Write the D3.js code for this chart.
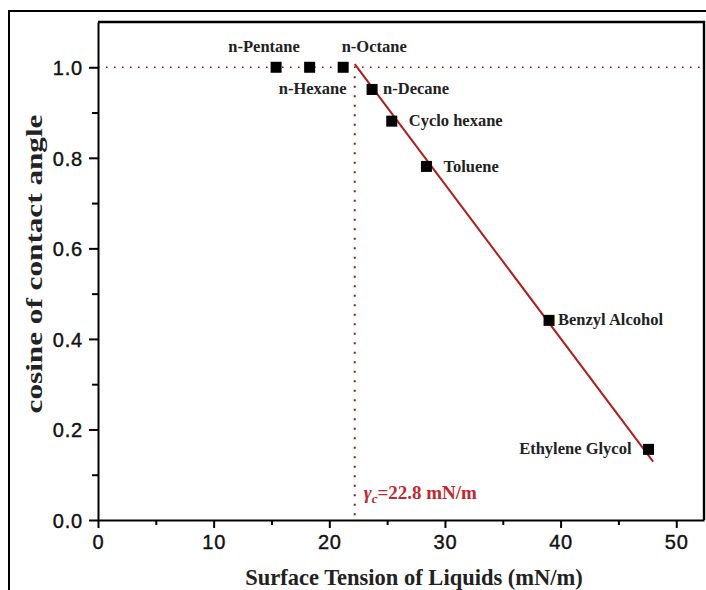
<!DOCTYPE html>
<html>
<head>
<meta charset="utf-8">
<script src="https://cdn.jsdelivr.net/npm/d3@7"></script>
<style>
  body { margin: 0; background: #fff; }
  svg { display: block; }
</style>
</head>
<body>
<svg width="706" height="590"></svg>
<script>
// liquids used for the Zisman plot
var liquids = ["n-Pentane", "n-Hexane", "n-Octane", "n-Decane", "Cyclo hexane", "Toluene", "Benzyl Alcohol", "Ethylene Glycol"];
var tension = [15.4, 18.3, 21.2, 23.7, 25.4, 28.4, 39.0, 47.6];
var cosTheta = [1.0, 1.0, 1.0, 0.951, 0.881, 0.781, 0.441, 0.156];

// fitted line ends and critical surface tension
var fitX = [22.2, 48.0];
var fitY = [1.007, 0.129];
var gammaC = 22.2;
var gammaLabel = "22.8 mN/m";

var xTicks = [0, 10, 20, 30, 40, 50];
var xMinor = [5, 15, 25, 35, 45];
var yTicks = [0, 0.2, 0.4, 0.6, 0.8, 1.0];
var yMinor = [0.1, 0.3, 0.5, 0.7, 0.9];

var svg = d3.select("svg"),
    margin = {top: 22, right: 2, bottom: 70, left: 98},
    width = 706 - margin.left - margin.right,
    height = 590 - margin.top - margin.bottom;

var x = d3.scaleLinear().domain([0, 52.4]).range([margin.left, margin.left + width]);
var y = d3.scaleLinear().domain([0, 1.1]).range([margin.top + height, margin.top]);

var serif = "'Times New Roman', 'Liberation Serif', serif";

// outer frame
svg.append("rect")
    .attr("x", 9).attr("y", 11)
    .attr("width", 760).attr("height", 640)
    .attr("fill", "none").attr("stroke", "#000").attr("stroke-width", 2);

// plot box top / right
svg.append("path")
    .attr("d", "M" + x(0) + "," + y(1.1) + "H" + x(52.4) + "V" + y(0))
    .attr("fill", "none").attr("stroke", "#000").attr("stroke-width", 2.4);

// dotted guides
svg.append("line")
    .attr("x1", x(0)).attr("x2", x(52.4))
    .attr("y1", y(1)).attr("y2", y(1))
    .attr("stroke", "#8b1a1a").attr("stroke-width", 1.6)
    .attr("stroke-dasharray", "1.6,6.4");

svg.append("line")
    .attr("x1", x(gammaC)).attr("x2", x(gammaC))
    .attr("y1", y(0.98)).attr("y2", y(0))
    .attr("stroke", "#8b1a1a").attr("stroke-width", 2)
    .attr("stroke-dasharray", "2,7.5");

// fit line
svg.append("path")
    .datum(d3.zip(fitX, fitY))
    .attr("fill", "none").attr("stroke", "#b31b1b").attr("stroke-width", 2)
    .attr("d", d3.line().x(function(d) { return x(d[0]); }).y(function(d) { return y(d[1]); }));

// axes
var xAxis = svg.append("g")
    .attr("transform", "translate(0," + y(0) + ")")
    .call(d3.axisBottom(x).tickValues(xTicks).tickSize(8).tickSizeOuter(0).tickPadding(4));
svg.append("g")
    .attr("transform", "translate(0," + y(0) + ")")
    .call(d3.axisBottom(x).tickValues(xMinor).tickSize(5).tickFormat("").tickSizeOuter(0))
    .select(".domain").remove();

var yAxis = svg.append("g")
    .attr("transform", "translate(" + x(0) + ",0)")
    .call(d3.axisLeft(y).tickValues(yTicks).tickSize(9).tickSizeOuter(0).tickPadding(6).tickFormat(d3.format(".1f")));
svg.append("g")
    .attr("transform", "translate(" + x(0) + ",0)")
    .call(d3.axisLeft(y).tickValues(yMinor).tickSize(6).tickFormat("").tickSizeOuter(0))
    .select(".domain").remove();

svg.selectAll(".domain, .tick line").attr("stroke", "#000").attr("stroke-width", 2);
svg.selectAll(".tick text")
    .attr("fill", "#111")
    .attr("stroke", "#111").attr("stroke-width", 0.4)
    .style("font-family", "Arial, 'Liberation Sans', sans-serif")
    .style("font-size", "20px")
    .style("letter-spacing", "0.8px");
xAxis.selectAll(".tick text").attr("dy", "0.85em");
yAxis.selectAll(".tick text").attr("dy", "0.36em");

// markers
var pts = d3.zip(tension, cosTheta);
svg.append("g").selectAll("rect")
    .data(pts)
    .enter().append("rect")
    .attr("x", function(d) { return x(d[0]) - 5.5; })
    .attr("y", function(d) { return y(d[1]) - 5.5; })
    .attr("width", 11).attr("height", 11)
    .attr("fill", "#000");

// point labels: [dx, dy, anchor]
var labelPos = [
    [-12, -15, "middle"], [37, 27, "end"], [31, -15, "middle"], [11, 5, "start"],
    [17, 5, "start"], [17, 6, "start"], [9, 5, "start"], [-17, 5, "end"]
];
svg.append("g").selectAll("text")
    .data(pts)
    .enter().append("text")
    .attr("x", function(d, i) { return x(d[0]) + labelPos[i][0]; })
    .attr("y", function(d, i) { return y(d[1]) + labelPos[i][1]; })
    .attr("text-anchor", function(d, i) { return labelPos[i][2]; })
    .attr("fill", "#222")
    .style("font-family", serif)
    .style("font-weight", "bold")
    .style("font-size", "16.5px")
    .text(function(d, i) { return liquids[i]; });

// gamma_c label
var gl = svg.append("text")
    .attr("x", x(gammaC) + 9)
    .attr("y", y(0) - 21)
    .attr("fill", "#c0282d")
    .style("font-family", serif)
    .style("font-weight", "bold")
    .style("font-size", "19px");
gl.append("tspan").style("font-style", "italic").text("γ");
gl.append("tspan").attr("dy", 4).style("font-size", "13px").style("font-style", "italic").text("c");
gl.append("tspan").attr("dy", -4).text("=" + gammaLabel);

// axis titles
svg.append("text")
    .attr("x", 414)
    .attr("y", 585)
    .attr("text-anchor", "middle")
    .attr("fill", "#222")
    .style("font-family", serif)
    .style("font-weight", "bold")
    .style("font-size", "22.5px")
    .text("Surface Tension of Liquids (mN/m)");

// y title: glyphs are tall and narrow in the original, so stretch along the text
svg.append("text")
    .attr("transform", "translate(42,264) rotate(-90) scale(1.3,1)")
    .attr("text-anchor", "middle")
    .attr("fill", "#222")
    .style("font-family", serif)
    .style("font-weight", "bold")
    .style("font-size", "24px")
    .text("cosine of contact angle");
</script>
</body>
</html>
